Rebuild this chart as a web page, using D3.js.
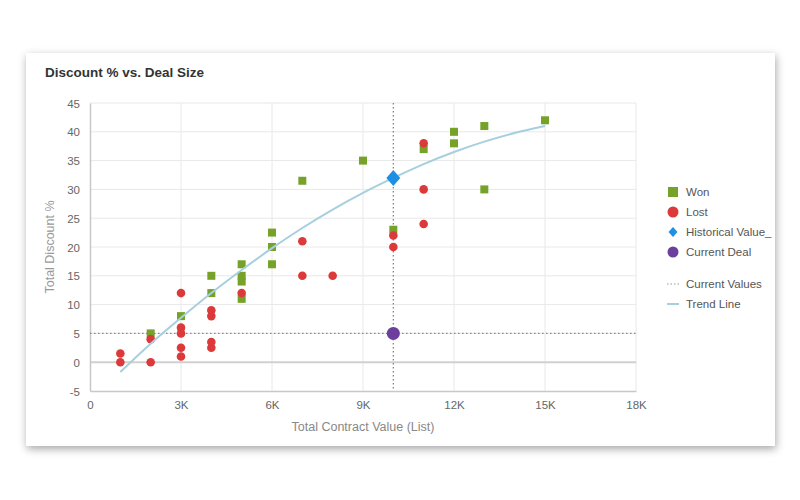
<!DOCTYPE html>
<html><head><meta charset="utf-8">
<script src="https://cdn.jsdelivr.net/npm/d3@7"></script>
<style>
body{margin:0;background:#fff;font-family:"Liberation Sans",Arial,sans-serif;}
svg{display:block;}
</style></head>
<body><svg id="c" width="800" height="500"></svg>
<script>
// Data (x in dollars, y in %)
const wonX = [2000,3000,4000,4000,5000,5000,5000,5000,6000,6000,6000,7000,9000,10000,11000,12000,12000,13000,13000,15000];
const wonY = [5,8,15,12,17,15,14,11,22.5,20,17,31.5,35,23,37,40,38,41,30,42];
const lostX = [1000,1000,2000,2000,3000,3000,3000,3000,3000,4000,4000,4000,4000,5000,7000,7000,8000,10000,10000,11000,11000,11000];
const lostY = [1.5,0,4,0,12,6,5,2.5,1,9,8,3.5,2.5,12,21,15,15,22,20,38,30,24];
const historicalX = [10000];
const historicalY = [32];
const currentX = [10000];
const currentY = [5];
const trendX = [1000,2000,3000,4000,5000,6000,7000,8000,9000,10000,11000,12000,13000,14000,15000];
const trendY = [-1.7,3.2,7.7,12,16,19.8,23.3,26.5,29.4,32,34.4,36.5,38.3,39.8,41];
const xTicks = [0,3000,6000,9000,12000,15000,18000];
const xTickLabels = ["0","3K","6K","9K","12K","15K","18K"];
const yTicks = [-5,0,5,10,15,20,25,30,35,40,45];
const yTickLabels = ["-5","0","5","10","15","20","25","30","35","40","45"];
const legendLabels = ["Won","Lost","Historical Value_","Current Deal","Current Values","Trend Line"];

const svg = d3.select("#c");
const defs = svg.append("defs");
const f = defs.append("filter").attr("id","sh").attr("x","-5%").attr("y","-5%").attr("width","110%").attr("height","115%");
f.append("feDropShadow").attr("dx",1).attr("dy",3).attr("stdDeviation",4).attr("flood-color","#000").attr("flood-opacity",0.35);

svg.append("rect").attr("x",26).attr("y",53).attr("width",749).attr("height",393).attr("fill","#fff").attr("filter","url(#sh)");

svg.append("text").attr("x",45).attr("y",77).text("Discount % vs. Deal Size")
  .attr("font-size",13.5).attr("font-weight","bold").attr("fill","#333");

const x = d3.scaleLinear().domain([0,18000]).range([90,636]);
const y = d3.scaleLinear().domain([-5,45]).range([391,103]);

const g = svg.append("g");
// grid
g.selectAll(".vg").data(xTicks.slice(1)).enter().append("line")
  .attr("x1",d=>x(d)).attr("x2",d=>x(d)).attr("y1",y(45)).attr("y2",y(-5))
  .attr("stroke","#e8e8e8").attr("stroke-width",1);
g.selectAll(".hg").data(yTicks.filter(d=>d!==-5)).enter().append("line")
  .attr("x1",x(0)).attr("x2",x(18000)).attr("y1",d=>y(d)).attr("y2",d=>y(d))
  .attr("stroke",d=>d===0?"#d0d0d0":"#e8e8e8").attr("stroke-width",d=>d===0?2:1);

// axes
const xa = g.append("g").attr("transform",`translate(0,${y(-5)})`)
  .call(d3.axisBottom(x).tickValues(xTicks).tickFormat((d,i)=>xTickLabels[i]).tickSize(0).tickPadding(10));
const ya = g.append("g").attr("transform",`translate(${x(0)},0)`)
  .call(d3.axisLeft(y).tickValues(yTicks).tickFormat((d,i)=>yTickLabels[i]).tickSize(0).tickPadding(10));
[xa,ya].forEach(a=>{
  a.select(".domain").attr("stroke","#c8c8c8").attr("stroke-width",1.5);
  a.selectAll("text").attr("fill","#666").attr("font-size",11.5).attr("font-family","'Liberation Sans', Arial, sans-serif");
});
ya.selectAll("text").attr("dy","0.35em");

svg.append("text").attr("x",363).attr("y",431).attr("text-anchor","middle")
  .text("Total Contract Value (List)").attr("fill","#888").attr("font-size",12.5);
svg.append("text").attr("transform","translate(54,247) rotate(-90)").attr("text-anchor","middle")
  .text("Total Discount %").attr("fill","#999").attr("font-size",12.5);

// current value lines
const cv = "#8a7f96";
g.append("line").attr("x1",x(currentX[0])).attr("x2",x(currentX[0])).attr("y1",y(45)).attr("y2",y(-5))
  .attr("stroke",cv).attr("stroke-width",1.3).attr("stroke-dasharray","1.5,2.5");
g.append("line").attr("x1",x(0)).attr("x2",x(18000)).attr("y1",y(currentY[0])).attr("y2",y(currentY[0]))
  .attr("stroke",cv).attr("stroke-width",1.3).attr("stroke-dasharray","1.5,2.5");

// points
const red="#dc3a3a", green="#76a22a", blue="#1e90e4", purple="#6c3f9e";
g.selectAll(".won").data(wonX.map((d,i)=>[d,wonY[i]])).enter().append("rect")
  .attr("x",d=>x(d[0])-4).attr("y",d=>y(d[1])-4).attr("width",8).attr("height",8).attr("fill",green);
g.selectAll(".lost").data(lostX.map((d,i)=>[d,lostY[i]])).enter().append("circle")
  .attr("cx",d=>x(d[0])).attr("cy",d=>y(d[1])).attr("r",4.3).attr("fill",red);

// trend line
g.append("path").datum(trendX.map((d,i)=>[d,trendY[i]]))
  .attr("d",d3.line().x(d=>x(d[0])).y(d=>y(d[1])).curve(d3.curveCatmullRom))
  .attr("fill","none").attr("stroke","#a6cfdf").attr("stroke-width",2);

g.selectAll(".hist").data(historicalX.map((d,i)=>[d,historicalY[i]])).enter().append("path")
  .attr("transform",d=>`translate(${x(d[0])},${y(d[1])})`)
  .attr("d","M0,-8L7,0L0,8L-7,0Z").attr("fill",blue);
g.selectAll(".cur").data(currentX.map((d,i)=>[d,currentY[i]])).enter().append("circle")
  .attr("cx",d=>x(d[0])).attr("cy",d=>y(d[1])).attr("r",6.5).attr("fill",purple);

// legend
const lg = svg.append("g").attr("font-size",11.5).attr("fill","#555");
const ly = [192,212,232,252,284,304];
const lx = 673;
lg.append("rect").attr("x",lx-5).attr("y",ly[0]-5).attr("width",10).attr("height",10).attr("fill",green);
lg.append("circle").attr("cx",lx).attr("cy",ly[1]).attr("r",5.5).attr("fill",red);
lg.append("path").attr("transform",`translate(${lx},${ly[2]})`).attr("d","M0,-5L4.5,0L0,5L-4.5,0Z").attr("fill",blue);
lg.append("circle").attr("cx",lx).attr("cy",ly[3]).attr("r",5.5).attr("fill",purple);
lg.append("line").attr("x1",lx-6).attr("x2",lx+6).attr("y1",ly[4]).attr("y2",ly[4]).attr("stroke","#999").attr("stroke-dasharray","1.5,2");
lg.append("line").attr("x1",lx-6).attr("x2",lx+6).attr("y1",ly[5]).attr("y2",ly[5]).attr("stroke","#a6cfdf").attr("stroke-width",2);
legendLabels.forEach((t,i)=>{
  lg.append("text").attr("x",686).attr("y",ly[i]).attr("dy","0.35em").text(t).attr("fill","#555");
});
</script></body></html>
